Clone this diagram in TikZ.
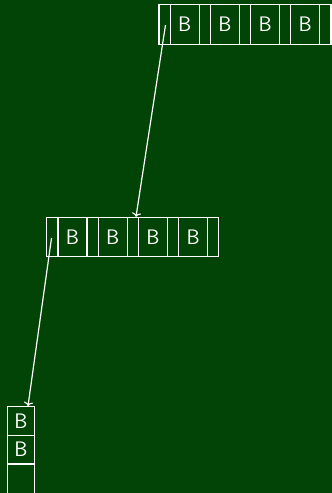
\documentclass[tikz,border=0pt]{standalone}
\usetikzlibrary{arrows.meta}
\definecolor{bg}{RGB}{1,68,5}
\begin{document}
\begin{tikzpicture}[x=1pt,y=-1pt,
  cellbox/.style={draw=white,line width=1.2pt,inner sep=0pt,outer sep=0pt,anchor=west,
    minimum height=39.5pt,text=white,font=\sffamily\fontsize{21}{24}\selectfont},
  ncell/.style={cellbox,minimum width=11.2pt},
  bcell/.style={cellbox,minimum width=29pt},
  vcell/.style={draw=white,line width=1.2pt,inner sep=0pt,outer sep=0pt,anchor=north,
    minimum width=27.4pt,minimum height=28.7pt,text=white,font=\sffamily\fontsize{21}{24}\selectfont},
  link/.style={draw=white,line width=1.2pt,-{To[length=4pt,width=9pt]}}]
\useasboundingbox (0,0) rectangle (332,493);
\fill[bg] (0,0) rectangle (332,493);
\clip (0,0) rectangle (332,493);
% top node
\node[ncell] (t0) at (159,24.5) {};
\node[bcell] (t1) at (t0.east) {B};
\node[ncell] (t2) at (t1.east) {};
\node[bcell] (t3) at (t2.east) {B};
\node[ncell] (t4) at (t3.east) {};
\node[bcell] (t5) at (t4.east) {B};
\node[ncell] (t6) at (t5.east) {};
\node[bcell] (t7) at (t6.east) {B};
\node[ncell] (t8) at (t7.east) {};
% middle node
\node[ncell] (m0) at (46.8,237) {};
\node[bcell] (m1) at (m0.east) {B};
\node[ncell] (m2) at (m1.east) {};
\node[bcell] (m3) at (m2.east) {B};
\node[ncell] (m4) at (m3.east) {};
\node[bcell] (m5) at (m4.east) {B};
\node[ncell] (m6) at (m5.east) {};
\node[bcell] (m7) at (m6.east) {B};
\node[ncell] (m8) at (m7.east) {};
% bottom node
\node[vcell] (b0) at (21,406.5) {B};
\node[vcell] (b1) at (b0.south) {B};
\node[vcell,minimum height=40pt] (b2) at (b1.south) {};
% connectors
\coordinate (s1) at (165.5,25);
\coordinate (e1) at (136,216.8);
\coordinate (s2) at (51.5,238);
\coordinate (e2) at (28,406);
\draw[link] (s1) -- (e1);
\draw[link] (s2) -- (e2);
\end{tikzpicture}
\end{document}
